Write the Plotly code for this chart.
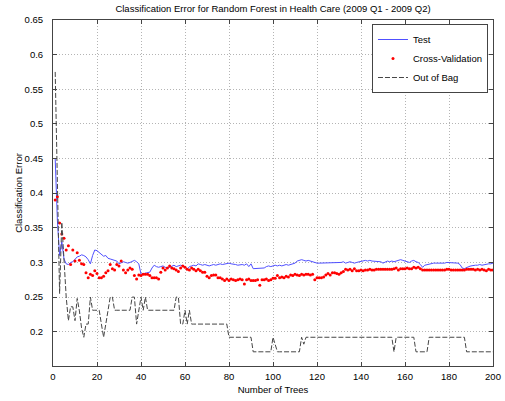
import plotly.graph_objects as go

trees = list(range(1, 201))

test_err = [
    0.450, 0.360, 0.310, 0.330, 0.305, 0.298, 0.297, 0.300, 0.301, 0.304,
    0.308, 0.309, 0.311, 0.310, 0.308, 0.304, 0.298, 0.310, 0.318, 0.317,
    0.314, 0.311, 0.309, 0.310, 0.306, 0.305, 0.304, 0.303, 0.302, 0.298,
    0.300, 0.301, 0.300, 0.299, 0.300, 0.302, 0.303, 0.301, 0.298, 0.283,
    0.284, 0.285, 0.285, 0.286, 0.292, 0.296, 0.294, 0.293, 0.294, 0.295,
    0.293, 0.292, 0.293, 0.295, 0.296, 0.294, 0.295, 0.296, 0.295, 0.294,
    0.290, 0.294, 0.295, 0.296, 0.295, 0.298, 0.297, 0.296, 0.297, 0.296,
    0.295, 0.296, 0.297, 0.296, 0.297, 0.298, 0.297, 0.298, 0.299, 0.299,
    0.298, 0.298, 0.297, 0.296, 0.297, 0.297, 0.296, 0.298, 0.294, 0.298,
    0.291, 0.291, 0.291, 0.291, 0.291, 0.292, 0.294, 0.295, 0.294, 0.295,
    0.296, 0.295, 0.296, 0.295, 0.296, 0.297, 0.296, 0.297, 0.298, 0.299,
    0.302, 0.303, 0.304, 0.303, 0.302, 0.303, 0.302, 0.300, 0.299, 0.299,
    0.299, 0.299, 0.299, 0.299, 0.299, 0.299, 0.299, 0.299, 0.300, 0.299,
    0.300, 0.301, 0.299, 0.300, 0.301, 0.300, 0.299, 0.300, 0.301, 0.302,
    0.303, 0.303, 0.302, 0.303, 0.302, 0.302, 0.301, 0.302, 0.301, 0.299,
    0.301, 0.302, 0.301, 0.302, 0.301, 0.302, 0.304, 0.304, 0.303, 0.302,
    0.301, 0.300, 0.302, 0.303, 0.301, 0.300, 0.297, 0.293, 0.296, 0.297,
    0.298, 0.299, 0.299, 0.299, 0.299, 0.298, 0.299, 0.299, 0.300, 0.300,
    0.300, 0.300, 0.300, 0.299, 0.297, 0.292, 0.291, 0.293, 0.294, 0.295,
    0.296, 0.296, 0.296, 0.297, 0.296, 0.297, 0.297, 0.298, 0.298, 0.299,
]

cv_err = [
    0.390, 0.395, 0.357, 0.341, 0.335, 0.318, 0.324, 0.297, 0.318, 0.302,
    0.314, 0.303, 0.298, 0.297, 0.285, 0.278, 0.283, 0.281, 0.288, 0.284,
    0.278, 0.278, 0.280, 0.285, 0.288, 0.297, 0.291, 0.289, 0.297, 0.295,
    0.302, 0.289, 0.285, 0.289, 0.292, 0.290, 0.281, 0.276, 0.282, 0.281,
    0.283, 0.283, 0.283, 0.281, 0.278, 0.278, 0.278, 0.276, 0.286, 0.292,
    0.289, 0.292, 0.295, 0.292, 0.291, 0.289, 0.287, 0.292, 0.295, 0.293,
    0.290, 0.289, 0.292, 0.290, 0.288, 0.290, 0.288, 0.286, 0.286, 0.280,
    0.278, 0.281, 0.282, 0.282, 0.278, 0.278, 0.276, 0.274, 0.276, 0.274,
    0.276, 0.275, 0.274, 0.275, 0.276, 0.275, 0.269, 0.275, 0.276, 0.274,
    0.274, 0.274, 0.275, 0.267, 0.275, 0.275, 0.276, 0.274, 0.275, 0.277,
    0.277, 0.281, 0.278, 0.279, 0.278, 0.280, 0.279, 0.282, 0.281, 0.283,
    0.282, 0.281, 0.283, 0.282, 0.283, 0.283, 0.282, 0.283, 0.275, 0.278,
    0.278, 0.278, 0.279, 0.282, 0.284, 0.282, 0.285, 0.285, 0.284, 0.283,
    0.285, 0.287, 0.290, 0.289, 0.290, 0.288, 0.291, 0.288, 0.288, 0.289,
    0.288, 0.289, 0.289, 0.290, 0.289, 0.289, 0.290, 0.290, 0.290, 0.290,
    0.290, 0.290, 0.290, 0.290, 0.291, 0.292, 0.289, 0.291, 0.291, 0.291,
    0.292, 0.291, 0.291, 0.293, 0.292, 0.293, 0.291, 0.289, 0.289, 0.289,
    0.289, 0.289, 0.289, 0.289, 0.289, 0.289, 0.289, 0.289, 0.290, 0.290,
    0.289, 0.289, 0.289, 0.289, 0.289, 0.289, 0.289, 0.290, 0.290, 0.290,
    0.290, 0.289, 0.290, 0.289, 0.290, 0.289, 0.288, 0.290, 0.289, 0.289,
]

oob_err = [
    0.575, 0.400, 0.255, 0.358, 0.300, 0.250, 0.216, 0.236, 0.236, 0.216,
    0.248, 0.230, 0.205, 0.192, 0.211, 0.211, 0.250, 0.231, 0.231, 0.231,
    0.231, 0.211, 0.192, 0.211, 0.231, 0.250, 0.250, 0.231, 0.231, 0.231,
    0.231, 0.231, 0.231, 0.231, 0.231, 0.250, 0.250, 0.211, 0.231, 0.250,
    0.231, 0.250, 0.231, 0.231, 0.231, 0.231, 0.231, 0.231, 0.231, 0.231,
    0.231, 0.231, 0.231, 0.231, 0.231, 0.250, 0.250, 0.211, 0.211, 0.231,
    0.211, 0.231, 0.211, 0.211, 0.211, 0.211, 0.211, 0.211, 0.211, 0.211,
    0.211, 0.211, 0.211, 0.211, 0.211, 0.211, 0.211, 0.211, 0.211, 0.192,
    0.192, 0.192, 0.192, 0.192, 0.192, 0.192, 0.192, 0.192, 0.192, 0.192,
    0.171, 0.171, 0.171, 0.171, 0.171, 0.171, 0.171, 0.171, 0.171, 0.192,
    0.182, 0.171, 0.171, 0.171, 0.171, 0.171, 0.171, 0.171, 0.171, 0.171,
    0.171, 0.171, 0.192, 0.182, 0.192, 0.192, 0.192, 0.192, 0.192, 0.192,
    0.192, 0.192, 0.192, 0.192, 0.192, 0.192, 0.192, 0.192, 0.192, 0.192,
    0.192, 0.192, 0.192, 0.192, 0.192, 0.192, 0.192, 0.192, 0.192, 0.192,
    0.192, 0.192, 0.192, 0.192, 0.192, 0.192, 0.192, 0.192, 0.192, 0.192,
    0.192, 0.192, 0.192, 0.192, 0.171, 0.192, 0.192, 0.192, 0.192, 0.192,
    0.192, 0.192, 0.192, 0.192, 0.171, 0.171, 0.171, 0.171, 0.171, 0.171,
    0.192, 0.192, 0.192, 0.192, 0.192, 0.192, 0.192, 0.192, 0.192, 0.192,
    0.192, 0.192, 0.192, 0.192, 0.192, 0.192, 0.192, 0.171, 0.171, 0.171,
    0.171, 0.171, 0.171, 0.171, 0.171, 0.171, 0.171, 0.171, 0.171, 0.171,
]

x_ticks = [0, 20, 40, 60, 80, 100, 120, 140, 160, 180, 200]
y_ticks = [0.2, 0.25, 0.3, 0.35, 0.4, 0.45, 0.5, 0.55, 0.6, 0.65]
y_tick_labels = ["0.2", "0.25", "0.3", "0.35", "0.4", "0.45", "0.5", "0.55", "0.6", "0.65"]

FONT = "Liberation Sans, Arial, Helvetica, sans-serif"

fig = go.Figure()
fig.add_trace(go.Scatter(
    x=trees, y=test_err, mode="lines", name="Test",
    line=dict(color="rgb(80,80,255)", width=1),
))
fig.add_trace(go.Scatter(
    x=trees, y=cv_err, mode="markers", name="Cross-Validation",
    marker=dict(color="rgb(255,0,0)", size=3, line=dict(width=0)),
))
fig.add_trace(go.Scatter(
    x=trees, y=oob_err, mode="lines", name="Out of Bag",
    line=dict(color="rgb(70,70,70)", width=1, dash="5px,2px"),
))

axis_common = dict(
    showline=True, linecolor="#444", linewidth=1, mirror="allticks",
    ticks="inside", ticklen=4, tickcolor="#444", tickwidth=1,
    showgrid=True, gridcolor="#b4b4b4", gridwidth=1, griddash="1px,2px",
    zeroline=False, automargin=False,
    tickfont=dict(family=FONT, size=9.5, color="#000"),
)

fig.update_layout(
    width=505, height=401,
    margin=dict(l=53, r=12, t=20, b=35),
    paper_bgcolor="white", plot_bgcolor="white",
    font=dict(family=FONT, size=9.5, color="#000"),
    title=dict(
        text="Classification Error for Random Forest in Health Care (2009 Q1 - 2009 Q2)",
        x=0.5, xref="paper", y=1 - 9 / 401, yref="container", yanchor="middle",
        font=dict(family=FONT, size=9.5, color="#000"),
    ),
    xaxis=dict(
        range=[0, 200], tickvals=x_ticks,
        title=dict(text="Number of Trees", standoff=4, font=dict(family=FONT, size=9.5)),
        ticklabelstandoff=2,
        **axis_common,
    ),
    yaxis=dict(
        range=[0.1505, 0.65], tickvals=y_ticks, ticktext=y_tick_labels,
        title=dict(text="Classification Error", standoff=0, font=dict(family=FONT, size=9.5)),
        ticklabelstandoff=7,
        **axis_common,
    ),
    legend=dict(
        x=0.9886, y=0.9884, xanchor="right", yanchor="top",
        bgcolor="white", bordercolor="#444", borderwidth=1,
        font=dict(family=FONT, size=9.5, color="#000"),
        tracegroupgap=0, itemwidth=30,
    ),
    showlegend=True,
)

fig.write_html(
    "out.html",
    config={"displayModeBar": False},
    post_script="document.body.style.margin='0';document.body.style.overflow='hidden';",
)
